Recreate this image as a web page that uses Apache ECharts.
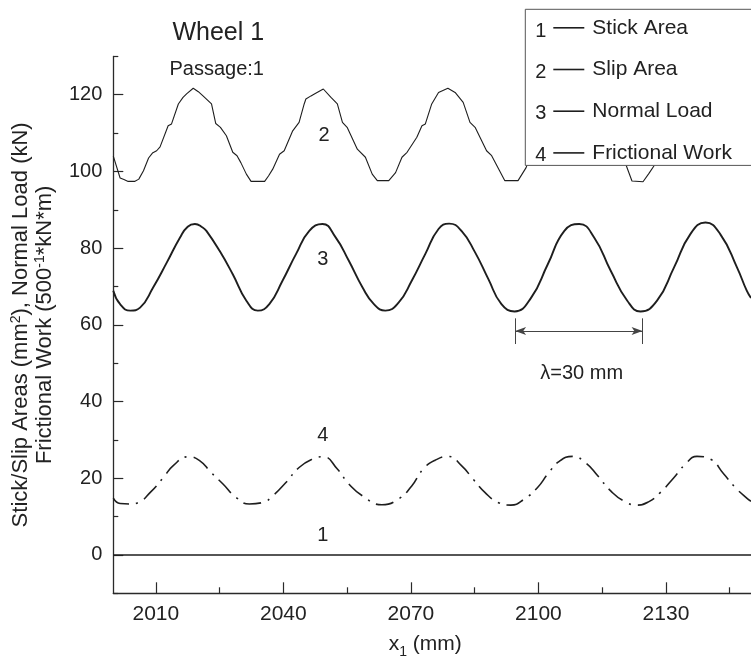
<!DOCTYPE html>
<html>
<head>
<meta charset="utf-8">
<title>Wheel 1 – Passage 1</title>
<script src="https://cdn.jsdelivr.net/npm/echarts@6/dist/echarts.min.js"></script>
<style>
  html, body { margin: 0; padding: 0; background: #fff; }
  #chart { width: 751px; height: 659px; }
</style>
</head>
<body>
<div id="chart"></div>
<script>
// Contact quantities along the rail for wheel 1, first passage.
const FONT = '"Liberation Sans", Arial, Helvetica, sans-serif';
const INK = '#1e1e1e';

// Axis ticks
const xMajor = [2010, 2040, 2070, 2100, 2130];
const xMinor = [2025, 2055, 2085, 2115, 2145];
const yMajor = [0, 20, 40, 60, 80, 100, 120];
const yMinor = [-10, 10, 30, 50, 70, 90, 110, 130];

// 1 – stick area (mm^2)
const stickArea = [[2000, 0], [2150, 0]];

// 2 – slip area (mm^2)
const slipArea = [
  [2000.0, 104.0], [2001.6, 98.3], [2002.5, 97.9], [2003.5, 97.4], [2005.0, 97.4],
  [2006.0, 98.0], [2007.1, 100.2], [2008.3, 103.5], [2009.2, 104.8], [2010.2, 105.4],
  [2011.0, 106.4], [2012.9, 111.9], [2013.7, 112.4], [2015.3, 117.6], [2016.4, 119.3],
  [2017.3, 120.3], [2018.8, 121.7], [2020.0, 120.8], [2021.1, 119.7], [2023.1, 117.6],
  [2024.1, 112.5], [2025.2, 111.5], [2026.6, 109.3], [2028.1, 105.0], [2029.1, 104.1],
  [2030.0, 102.3], [2031.3, 99.3], [2032.4, 97.4], [2035.6, 97.4], [2036.5, 98.8],
  [2037.5, 100.6], [2039.1, 104.5], [2040.2, 105.4], [2042.2, 110.6], [2043.7, 112.8],
  [2044.9, 117.6], [2045.3, 118.9], [2046.5, 119.7], [2047.3, 120.2], [2049.4, 121.5],
  [2051.2, 119.3], [2052.7, 117.6], [2053.9, 112.8], [2055.0, 111.5], [2057.4, 105.8],
  [2059.3, 103.7], [2060.9, 99.3], [2062.1, 97.6], [2064.8, 97.6], [2066.4, 99.7],
  [2067.9, 103.7], [2069.1, 105.0], [2071.4, 108.9], [2072.6, 111.9], [2073.4, 112.4],
  [2074.9, 117.6], [2076.5, 120.6], [2078.7, 121.7], [2080.4, 120.6], [2082.3, 118.0],
  [2083.9, 112.8], [2085.1, 111.5], [2087.8, 105.4], [2089.0, 104.1], [2092.1, 97.6],
  [2095.2, 97.6], [2097.1, 101.0], [2098.0, 103.7], [2099.2, 105.0], [2101.5, 108.9],
  [2102.7, 111.9], [2103.5, 112.4], [2105.0, 117.6], [2106.6, 120.6], [2108.8, 121.7],
  [2110.5, 120.6], [2112.4, 118.0], [2114.0, 112.8], [2115.2, 111.5], [2117.9, 105.4],
  [2119.1, 104.1], [2120.5, 102.0], [2122.0, 97.5], [2124.6, 97.3], [2126.0, 99.5],
  [2127.2, 101.5], [2128.3, 103.7], [2129.5, 105.0], [2131.8, 108.9], [2133.0, 111.9],
  [2133.8, 112.4], [2135.3, 117.6], [2136.9, 120.6], [2139.1, 121.7], [2140.8, 120.6],
  [2142.7, 118.0], [2144.3, 112.8], [2145.5, 111.5], [2148.2, 105.4], [2149.4, 104.1],
  [2150.0, 103.0]
];

// 3 – normal load (kN)
const normalLoad = [
  [2000.0, 68.9], [2001.6, 65.4], [2004.0, 63.7], [2006.3, 64.5], [2009.4, 69.8],
  [2012.6, 76.3], [2015.7, 82.8], [2017.5, 85.6], [2019.2, 86.3], [2021.0, 85.4],
  [2021.9, 84.5], [2025.0, 79.3], [2028.1, 73.2], [2031.3, 66.3], [2034.0, 63.7],
  [2036.7, 65.4], [2039.8, 71.5], [2043.0, 78.5], [2046.1, 84.5], [2049.2, 86.3],
  [2052.3, 82.8], [2055.4, 76.7], [2058.6, 69.8], [2061.3, 65.4], [2064.0, 63.7],
  [2067.1, 65.8], [2070.2, 71.5], [2073.4, 78.5], [2076.5, 85.0], [2079.0, 86.4],
  [2081.9, 84.5], [2085.1, 78.9], [2088.2, 72.0], [2091.3, 65.4], [2094.4, 63.5],
  [2098.3, 67.1], [2102.2, 75.8], [2106.1, 84.5], [2109.6, 86.3], [2113.1, 82.8],
  [2117.0, 74.1], [2120.9, 66.3], [2124.0, 63.5], [2127.9, 66.3], [2131.9, 75.0],
  [2135.7, 83.6], [2139.3, 86.7], [2142.8, 83.6], [2146.7, 75.0], [2149.0, 68.9],
  [2150.0, 67.0]
];

// 4 – frictional work (500^-1 kN*m)
const frictionalWork = [
  [2000.0, 14.8], [2001.6, 13.4], [2004.0, 13.3], [2005.9, 13.7], [2008.7, 16.3],
  [2011.8, 20.2], [2014.1, 23.3], [2017.6, 25.6], [2020.3, 24.6], [2023.0, 21.5],
  [2025.8, 18.5], [2028.9, 15.0], [2032.0, 13.3], [2035.2, 13.7], [2037.5, 15.4],
  [2040.6, 18.9], [2043.7, 22.8], [2046.9, 25.0], [2049.4, 25.6], [2052.7, 22.4],
  [2055.4, 18.5], [2058.6, 15.4], [2063.2, 13.1], [2067.1, 14.6], [2070.2, 18.0],
  [2072.9, 22.4], [2075.7, 24.7], [2078.8, 25.7], [2081.9, 23.3], [2084.6, 19.8],
  [2087.4, 16.3], [2090.5, 13.7], [2093.5, 13.0], [2096.7, 14.6], [2099.8, 17.6],
  [2102.2, 21.1], [2104.9, 24.4], [2108.1, 25.7], [2111.2, 23.9], [2113.9, 20.7],
  [2117.0, 16.7], [2120.2, 14.0], [2123.3, 13.0], [2126.0, 13.9], [2128.7, 16.3],
  [2131.9, 20.2], [2134.6, 23.7], [2137.3, 25.7], [2140.4, 25.0], [2143.6, 21.1],
  [2146.3, 17.6], [2149.0, 14.8], [2150.0, 14.0]
];

// Wavelength marker between two load minima
const lambdaStart = 2094.5;
const lambdaMm = 30;
const lambdaArrowY = 58.4;
const lambdaBarTop = 61.7;
const lambdaBarBottom = 55.0;

const seriesNames = ['Stick Area', 'Slip Area', 'Normal Load', 'Frictional Work'];

const chart = echarts.init(document.getElementById('chart'), null, { renderer: 'canvas' });

const axisLineStyle = { color: '#2a2a2a', width: 1.3 };
const tickLineStyle = { color: '#2a2a2a', width: 1.2 };
const plainNumber = function (v) { return String(v); };

function text(x, y, str, size, extra) {
  return Object.assign({
    type: 'text', x: x, y: y, z: 100,
    style: {
      text: str, fontSize: size, fontFamily: FONT, fill: '#222',
      align: 'center', verticalAlign: 'middle',
      textAlign: 'center', textVerticalAlign: 'middle'
    }
  }, extra || {});
}

const option = {
  animation: false,
  backgroundColor: '#fff',
  color: [INK, INK, INK, INK],
  grid: { left: 113.3, top: 56.4, right: -3.3, bottom: 65.7, containLabel: false },
  legend: {
    orient: 'vertical',
    left: 525.3, top: 9.3,
    padding: [8, 30, 2, 28],
    itemGap: 20.7,
    itemWidth: 31,
    itemHeight: 1.6,
    icon: 'rect',
    selectedMode: false,
    backgroundColor: '#fff',
    borderColor: '#555',
    borderWidth: 1,
    textStyle: { fontSize: 21, color: '#222', fontFamily: FONT, padding: [0, 0, 0, 3] },
    data: seriesNames
  },
  xAxis: [
    {
      type: 'value', min: 2000, max: 2150, position: 'bottom',
      axisLine: { show: true, onZero: false, lineStyle: axisLineStyle },
      axisTick: { show: true, inside: true, length: 11, customValues: xMajor, lineStyle: tickLineStyle },
      axisLabel: { customValues: xMajor, formatter: plainNumber, margin: 10, fontSize: 21, color: '#222', fontFamily: FONT },
      splitLine: { show: false }
    },
    {
      type: 'value', min: 2000, max: 2150, position: 'bottom', gridIndex: 0,
      axisLine: { show: false, onZero: false },
      axisTick: { show: true, inside: true, length: 6, customValues: xMinor, lineStyle: tickLineStyle },
      axisLabel: { show: false },
      splitLine: { show: false }
    }
  ],
  yAxis: [
    {
      type: 'value', min: -10, max: 130, position: 'left',
      axisLine: { show: true, onZero: false, lineStyle: axisLineStyle },
      axisTick: { show: true, inside: true, length: 10, customValues: yMajor, lineStyle: tickLineStyle },
      axisLabel: { customValues: yMajor, formatter: plainNumber, margin: 11, fontSize: 20, color: '#222', fontFamily: FONT },
      splitLine: { show: false },
      name: 'Stick/Slip Areas (mm{sup|2}), Normal Load (kN)\nFrictional Work (500{sup|-1}*kN*m)',
      nameLocation: 'middle',
      nameRotate: 90,
      nameGap: 56,
      nameTextStyle: {
        fontSize: 22, lineHeight: 24, color: '#222', fontFamily: FONT,
        rich: { sup: { fontSize: 14, verticalAlign: 'top', lineHeight: 24, color: '#222', fontFamily: FONT } }
      }
    },
    {
      type: 'value', min: -10, max: 130, position: 'left', gridIndex: 0,
      axisLine: { show: false, onZero: false },
      axisTick: { show: true, inside: true, length: 5, customValues: yMinor, lineStyle: tickLineStyle },
      axisLabel: { show: false },
      splitLine: { show: false }
    }
  ],
  series: [
    {
      name: seriesNames[0], type: 'line', data: stickArea,
      showSymbol: false, symbol: 'none', z: 3,
      lineStyle: { color: INK, width: 1.5 }
    },
    {
      name: seriesNames[1], type: 'line', data: slipArea,
      showSymbol: false, symbol: 'none', z: 3,
      lineStyle: { color: INK, width: 1.1 }
    },
    {
      name: seriesNames[2], type: 'line', data: normalLoad,
      showSymbol: false, symbol: 'none', smooth: 0.5, z: 3,
      lineStyle: { color: INK, width: 1.9 },
      markLine: {
        silent: true,
        symbol: ['none', 'none'],
        symbolSize: [6, 11],
        label: { show: false },
        emphasis: { disabled: true },
        lineStyle: { color: '#444', width: 1, type: 'solid' },
        data: [
          [{ coord: [lambdaStart, lambdaBarTop] }, { coord: [lambdaStart, lambdaBarBottom] }],
          [{ coord: [lambdaStart + lambdaMm, lambdaBarTop] }, { coord: [lambdaStart + lambdaMm, lambdaBarBottom] }],
          [{ coord: [lambdaStart, lambdaArrowY], symbol: 'arrow' },
           { coord: [lambdaStart + lambdaMm, lambdaArrowY], symbol: 'arrow' }]
        ]
      }
    },
    {
      name: seriesNames[3], type: 'line', data: frictionalWork,
      showSymbol: false, symbol: 'none', smooth: 0.5, z: 3,
      lineStyle: { color: INK, width: 1.6, type: [18, 7, 2, 7] }
    }
  ],
  graphic: [
    text(218.3, 33.3, 'Wheel 1', 25),
    text(216.7, 69, 'Passage:1', 20),
    // curve numbers
    text(324, 135, '2', 20),
    text(322.7, 259, '3', 20),
    text(322.7, 435, '4', 20),
    text(322.7, 535.7, '1', 20),
    // legend numbers
    text(540.7, 31.7, '1', 20),
    text(540.7, 72.3, '2', 20),
    text(540.7, 113.7, '3', 20),
    text(540.7, 155, '4', 20),
    // wavelength label
    text(581.7, 373.3, 'λ=30 mm', 20),
    // x axis title with subscript
    {
      type: 'text', x: 425.3, y: 644, z: 100,
      style: {
        text: 'x{sub|1} (mm)', fontSize: 21, lineHeight: 30, fontFamily: FONT, fill: '#222',
        align: 'center', verticalAlign: 'middle', textAlign: 'center', textVerticalAlign: 'middle',
        rich: { sub: { fontSize: 14, verticalAlign: 'bottom', lineHeight: 30, fontFamily: FONT, fill: '#222' } }
      }
    }
  ]
};

chart.setOption(option);
</script>
</body>
</html>
